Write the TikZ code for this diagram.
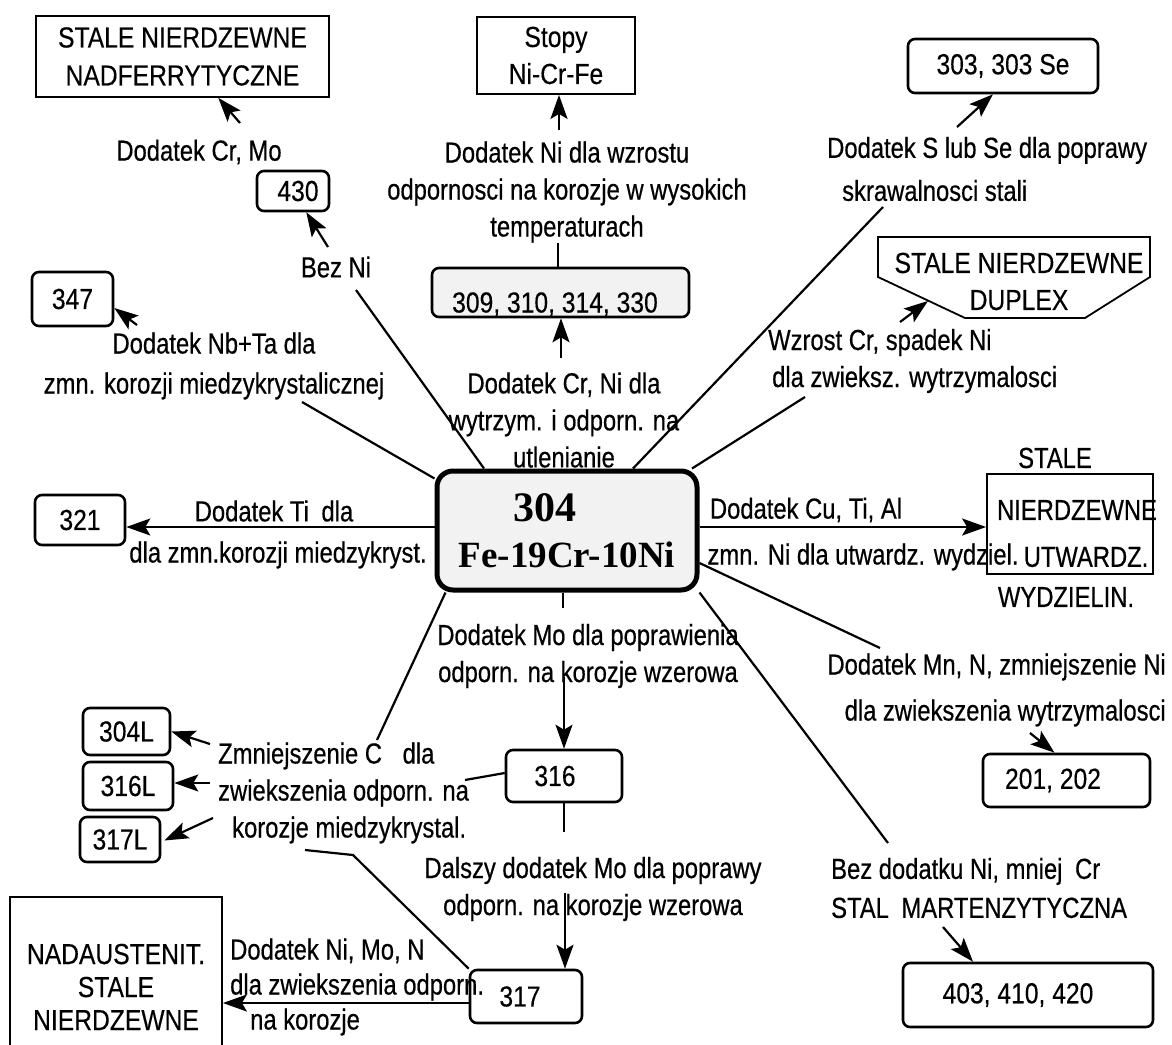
\documentclass[tikz,border=0pt]{standalone}
\usepackage{fontspec}
\usetikzlibrary{arrows.meta}
\newfontfamily\labfont[FakeStretch=0.82,FakeBold=0.5]{Liberation Sans}
\newfontfamily\boxfont[FakeStretch=0.85,FakeBold=0.3]{Liberation Sans}
\newfontfamily\serfont{Liberation Serif}
\begin{document}
\begin{tikzpicture}[x=1pt,y=-1pt,
  lab/.style={font=\labfont\fontsize{29}{37}\selectfont, inner sep=0pt, align=center},
  btxt/.style={font=\boxfont\fontsize{29}{38}\selectfont, inner sep=0pt, align=center},
  rbox/.style={btxt, draw, line width=2.6pt, rounded corners=7pt, fill=white},
  sbox/.style={btxt, draw, line width=1.8pt},
  conn/.style={line width=2.2pt},
  arr/.style={line width=2.2pt, -{Stealth[length=24pt,width=17pt,inset=5pt]}}]
\path[use as bounding box, clip] (0,0) rectangle (1172,1044);
\fill[white] (0,0) rectangle (1172,1044);

% ---------- boxes ----------
\node[sbox, minimum width=293pt, minimum height=81pt] (bNadf) at (182.5,56.5) {STALE NIERDZEWNE\\NADFERRYTYCZNE};
\node[rbox, minimum width=72pt, minimum height=40pt] (b430) at (293,191) {\hspace*{10pt}430};
\node[sbox, minimum width=158pt, minimum height=77pt] (bStopy) at (556,55.5) {Stopy\\[-1pt]Ni-Cr-Fe};
\node[rbox, fill=gray!10, minimum width=257pt, minimum height=49pt] (b309) at (560.5,292.5) {\raisebox{-20pt}[0pt][0pt]{309, 310, 314, 330}\hspace*{11pt}};
\node[rbox, minimum width=190pt, minimum height=54pt] (b303) at (1003,66) {303, 303 Se};
\draw[line width=1.8pt] (878,237) -- (1150,237) -- (1150,277) -- (1085,318) -- (965,318) -- (878,277) -- cycle;
\node[btxt] (tDup) at (1019,281.5) {STALE NIERDZEWNE\\[-1pt]DUPLEX};
\coordinate (dupin) at (928,301);
\node[rbox, minimum width=81pt, minimum height=54pt] (b347) at (72.5,299) {347};
\node[rbox, minimum width=90pt, minimum height=50pt] (b321) at (80,520) {321};
\node[draw, line width=5pt, rounded corners=16pt, fill=gray!10, minimum width=260pt, minimum height=119pt, inner sep=0pt, align=center,
      font=\serfont\bfseries\fontsize{37}{46}\selectfont] (bCenter) at (567,530.5)
      {{\fontsize{42}{46}\selectfont\hspace*{-44pt}304}\\Fe-19Cr-10Ni};
\node[sbox, minimum width=166pt, minimum height=100pt] (bUtw) at (1070,524) {};
\node[lab] (tUtw1) at (1055,458) {STALE};
\node[lab] (tUtw2) at (1077,510) {NIERDZEWNE};
\node[lab] (tUtw3) at (1086,557) {UTWARDZ.};
\node[lab] (tUtw4) at (1066,597) {WYDZIELIN.};
\node[rbox, minimum width=167pt, minimum height=53pt] (b201) at (1066.5,780.5) {201, 202\hspace*{27pt}};
\node[rbox, minimum width=250pt, minimum height=64pt] (b403) at (1028,995) {403, 410, 420\hspace*{20pt}};
\node[rbox, minimum width=116pt, minimum height=52pt] (b316) at (564,776) {316\hspace*{18pt}};
\node[rbox, minimum width=87pt, minimum height=47pt] (b304L) at (126.5,731.5) {304L};
\node[rbox, minimum width=90pt, minimum height=48pt] (b316L) at (128,786) {316L};
\node[rbox, minimum width=80pt, minimum height=45pt] (b317L) at (120,839.5) {317L};
\node[rbox, minimum width=112pt, minimum height=53pt] (b317) at (526,996.5) {317\hspace*{12pt}};
\node[sbox, minimum width=212pt, minimum height=180pt, anchor=north,
      font=\boxfont\fontsize{29}{33}\selectfont] (bNadaus) at (116,896) {NADAUSTENIT.\\STALE\\NIERDZEWNE};

% ---------- labels ----------
\node[lab] (lCrMo) at (199,152) {Dodatek Cr, Mo};
\node[lab] (lBezNi) at (336,267) {Bez Ni};
\node[lab] (lNi) at (567,192) {Dodatek Ni dla wzrostu\\odpornosci na korozje w wysokich\\temperaturach};
\node[lab] (lCrNi) at (564,420) {Dodatek Cr, Ni dla\\wytrzym. i odporn. na\\utlenianie};
\node[lab, align=left, anchor=west] (lSSe) at (827,169) {Dodatek S lub Se dla poprawy\\[6pt]\hspace*{15pt}skrawalnosci stali};
\node[lab, align=left, anchor=west] (lWz) at (768,361) {Wzrost Cr, spadek Ni\\\hspace*{4pt}dla zwieksz. wytrzymalosci};
\node[lab] (lNb) at (214,366) {Dodatek Nb+Ta dla\\[3pt]zmn. korozji miedzykrystalicznej};
\node[lab] (lTi1) at (274,511) {Dodatek Ti\hspace*{6pt} dla};
\node[lab] (lTi2) at (278,555) {dla zmn.korozji miedzykryst.};
\node[lab] (lCu1) at (806,510) {Dodatek Cu, Ti, Al};
\node[lab] (lCu2) at (863,557) {zmn. Ni dla utwardz. wydziel.};
\node[lab, align=right, anchor=east] (lMn) at (1166,690) {Dodatek Mn, N, zmniejszenie Ni\\[9pt]dla zwiekszenia wytrzymalosci};
\node[lab, align=left, anchor=west] (lMart) at (831,888) {Bez dodatku Ni, mniej\hspace*{6pt} Cr\\[2pt]STAL\hspace*{6pt} MARTENZYTYCZNA};
\node[lab] (lMo) at (588,656) {Dodatek Mo dla poprawienia\\odporn. na korozje wzerowa};
\node[lab, align=left, anchor=west] (lZ) at (218,793) {Zmniejszenie C\hspace*{14pt} dla\\zwiekszenia odporn. na\\\hspace*{14pt}korozje miedzykrystal.};
\node[lab] (lDal) at (593,889) {Dalszy dodatek Mo dla poprawy\\odporn. na korozje wzerowa};
\node[lab, align=left, anchor=west] (lNiMoN) at (230,987) {Dodatek Ni, Mo, N\\[-2pt]dla zwiekszenia odporn.\\[-2pt]\hspace*{20pt}na korozje};

% ---------- coordinates ----------
\coordinate (y527) at (0,527);
\coordinate (y1003) at (0,1003);
\coordinate (tCrMo) at (240,123);
\coordinate (tBez) at (328,247);
\coordinate (tNi) at (559,130);
\coordinate (tCrNi) at (561,358);
\coordinate (tSSe) at (957,127);
\coordinate (tWz) at (900,322);
\coordinate (tNb) at (137,325);
\coordinate (tMn) at (1030,733);
\coordinate (tMart) at (943,927);
\coordinate (tMo) at (564,677);
\coordinate (tZ1) at (210,744);
\coordinate (tZ2) at (210,783);
\coordinate (tZ3) at (213,818);
\coordinate (tDal) at (565,893);
\coordinate (cBez) at (356,290);
\coordinate (cTemp) at (558,243);
\coordinate (cSSe) at (883,207);
\coordinate (cWz) at (805,397);
\coordinate (cNb) at (302,402);
\coordinate (cMn) at (880,648);
\coordinate (cMart) at (888,843);
\coordinate (cMo) at (563,608);
\coordinate (cDal) at (564,832);
\coordinate (cZ) at (377,740);
\coordinate (cZ2) at (465,780);
\coordinate (cK) at (305,850);
\coordinate (cK2) at (353,855);

% ---------- arrows ----------
\draw[arr] (tCrMo) -- (bNadf);
\draw[arr] (tBez) -- (b430);
\draw[arr] (tNi) -- (tNi |- bStopy.south);
\draw[arr] (tCrNi) -- (tCrNi |- b309.south);
\draw[arr] (tSSe) -- ([xshift=-10pt]b303.south);
\draw[arr] (tWz) -- (dupin);
\draw[arr] (tNb) -- ([yshift=-9pt]b347.east);
\draw[arr] (bCenter.west |- y527) -- (b321.east |- y527);
\draw[arr] (bCenter.east |- y527) -- (bUtw.west |- y527);
\draw[arr] (tMn) -- ([xshift=-12pt]b201.north);
\draw[arr] (tMart) -- ([xshift=-55pt]b403.north);
\draw[arr] (tMo) -- (tMo |- b316.north);
\draw[arr] (tZ1) -- (b304L.east);
\draw[arr] (tZ2) -- (tZ2 -| b316L.east);
\draw[arr] (tZ3) -- ([xshift=3pt,yshift=-1pt]b317L.east);
\draw[arr] (b317.west |- y1003) -- (bNadaus.east |- y1003);
\draw[arr] (tDal) -- (tDal |- b317.north);

% ---------- plain connectors ----------
\draw[conn] (cBez) -- ([xshift=-83pt]bCenter.north);
\draw[conn] (cTemp) -- (cTemp |- b309.north);
\draw[conn] (cSSe) -- ([xshift=66pt]bCenter.north);
\draw[conn] (cWz) -- ([xshift=125pt]bCenter.north);
\draw[conn] (cNb) -- ([yshift=-10pt]bCenter.north west);
\draw[conn] ([yshift=-32.5pt]bCenter.east) -- (cMn);
\draw[conn] (bCenter.south east) -- (cMart);
\draw[conn] (cMo |- bCenter.south) -- (cMo);
\draw[conn] (cDal |- b316.south) -- (cDal);
\draw[conn] ([xshift=11pt]bCenter.south west) -- (cZ);
\draw[conn] ([yshift=3pt]b316.west) -- (cZ2);
\draw[conn] (cK) -- (cK2) -- (b317.north west);
\end{tikzpicture}
\end{document}
